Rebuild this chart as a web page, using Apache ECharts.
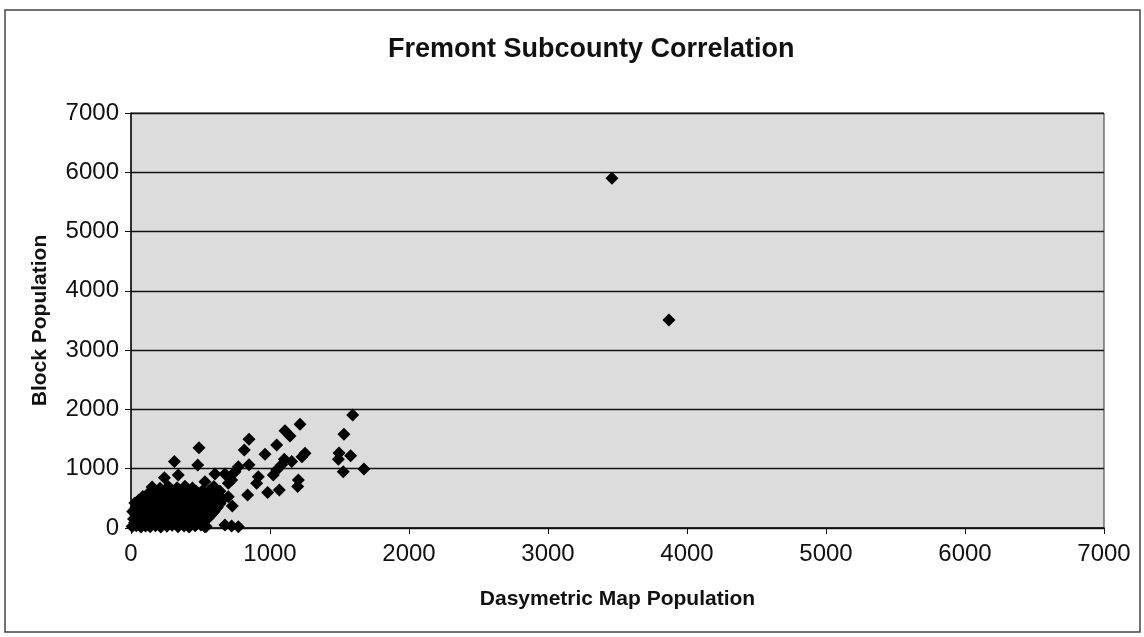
<!DOCTYPE html>
<html>
<head>
<meta charset="utf-8">
<title>Fremont Subcounty Correlation</title>
<script src="https://cdn.jsdelivr.net/npm/echarts@6/dist/echarts.min.js"></script>
<style>
  html, body { margin: 0; padding: 0; background: #fff; }
  #chart { width: 1144px; height: 637px; }
</style>
</head>
<body>
<div id="chart"></div>
<script>
// x = dasymetric map population, y = block population
var axisTicks = [0, 1000, 2000, 3000, 4000, 5000, 6000, 7000];

// the dense cluster near the origin
var clusterPoints = [
  [8, 25], [38, 40], [72, 18], [105, 35], [138, 22], [176, 40], [214, 15], [258, 30], [296, 45], [338, 20], [382, 35], [418, 18], [462, 40], [503, 50], [540, 25],
  [25, 90], [65, 95], [118, 85], [158, 100], [198, 80], [240, 95], [280, 88], [318, 102], [360, 84], [400, 96], [440, 90], [482, 100], [520, 86],
  [18, 150], [62, 135], [98, 160], [142, 145], [178, 170], [224, 140], [262, 155], [300, 135], [344, 165], [378, 148], [424, 160], [458, 135], [502, 150], [556, 170],
  [35, 215], [78, 220], [120, 208], [160, 225], [198, 212], [240, 218], [278, 205], [318, 228], [358, 214], [398, 222], [438, 210], [480, 226], [520, 215], [575, 220],
  [12, 280], [52, 300], [96, 265], [134, 290], [178, 270], [212, 305], [256, 285], [294, 260], [336, 295], [372, 275], [418, 300], [452, 270], [498, 290], [546, 310], [598, 280],
  [35, 350], [75, 355], [115, 345], [160, 360], [200, 348], [240, 356], [282, 342], [320, 362], [362, 350], [402, 358], [440, 346], [482, 364], [525, 352], [565, 360], [620, 345],
  [28, 420], [68, 440], [112, 405], [148, 430], [192, 415], [228, 445], [272, 410], [308, 425], [352, 440], [392, 405], [428, 430], [474, 415], [522, 440], [578, 420], [640, 410],
  [95, 490], [135, 495], [175, 485], [215, 500], [255, 488], [295, 496], [335, 482], [375, 498], [415, 490], [458, 494], [500, 486], [555, 498], [610, 490],
  [118, 560], [162, 545], [198, 575], [244, 555], [278, 580], [322, 550], [362, 570], [398, 545], [442, 565], [488, 580], [538, 560],
  [140, 620], [180, 625], [225, 615], [262, 632], [300, 628], [350, 618], [385, 640], [420, 624], [470, 615], [515, 630], [560, 620],
  [152, 690], [208, 670], [268, 700], [332, 680], [388, 705], [442, 675], [532, 780], [596, 700],
  [55, 470], [85, 530], [590, 540], [560, 390], [600, 430], [585, 250]
];

// scattered blocks away from the cluster
var sparsePoints = [
  [3460, 5900], [3870, 3510],
  [1595, 1905], [1532, 1580], [1497, 1265], [1492, 1160], [1580, 1220], [1527, 950], [1676, 995],
  [1216, 1750], [1108, 1640], [1144, 1550], [1252, 1260], [1230, 1200], [1048, 1400], [964, 1245],
  [1103, 1160], [1156, 1120], [1084, 1065], [1048, 980], [1024, 895], [1204, 810], [1199, 700],
  [1067, 640], [983, 600], [839, 556], [849, 1495], [815, 1315], [849, 1065], [916, 865], [904, 755],
  [772, 1035], [748, 950], [724, 810], [489, 1355], [312, 1120], [480, 1062], [340, 895], [240, 848],
  [604, 910], [676, 910], [700, 755], [676, 50], [724, 34], [772, 22], [729, 371], [532, 22], [700, 528],
  [640, 620], [660, 480], [610, 330]
];

var allPoints = clusterPoints.concat(sparsePoints);

var chart = echarts.init(document.getElementById('chart'));

var fontFamily = 'Liberation Sans, Arial, sans-serif';

var labelFont = {
  color: '#111',
  fontFamily: fontFamily,
  fontSize: 24,
  formatter: function (v) { return String(v); }
};

var nameFont = {
  color: '#111',
  fontFamily: fontFamily,
  fontSize: 21,
  fontWeight: 'bold'
};

chart.setOption({
  animation: false,
  title: {
    text: 'Fremont Subcounty Correlation',
    left: 383,
    top: 31,
    textStyle: {
      color: '#111',
      fontFamily: fontFamily,
      fontSize: 27,
      fontWeight: 'bold'
    }
  },
  graphic: [{
    type: 'rect',
    shape: { x: 5, y: 10, width: 1135, height: 622 },
    style: { fill: 'none', stroke: '#444', lineWidth: 1.5 },
    silent: true
  }],
  grid: {
    left: 131,
    right: 40,
    top: 113,
    bottom: 109,
    show: true,
    backgroundColor: '#dcdcdc',
    borderColor: '#333',
    borderWidth: 1
  },
  xAxis: {
    type: 'value',
    min: axisTicks[0],
    max: axisTicks[axisTicks.length - 1],
    interval: 1000,
    name: 'Dasymetric Map Population',
    nameLocation: 'middle',
    nameGap: 61,
    nameTextStyle: nameFont,
    axisLine: { show: true, lineStyle: { color: '#111', width: 1.5 } },
    axisTick: { show: true, length: 6, lineStyle: { color: '#111' } },
    axisLabel: Object.assign({ margin: 14 }, labelFont),
    splitLine: { show: false }
  },
  yAxis: {
    type: 'value',
    min: axisTicks[0],
    max: axisTicks[axisTicks.length - 1],
    interval: 1000,
    name: 'Block Population',
    nameLocation: 'middle',
    nameGap: 80,
    nameTextStyle: nameFont,
    axisLine: { show: true, lineStyle: { color: '#111', width: 1.5 } },
    axisTick: { show: true, length: 6, lineStyle: { color: '#111' } },
    axisLabel: Object.assign({ margin: 12 }, labelFont),
    splitLine: { show: true, lineStyle: { color: '#111', width: 1.4 } }
  },
  series: [{
    type: 'scatter',
    symbol: 'diamond',
    symbolSize: 13,
    itemStyle: { color: '#000', opacity: 1 },
    data: allPoints
  }]
});
</script>
</body>
</html>
